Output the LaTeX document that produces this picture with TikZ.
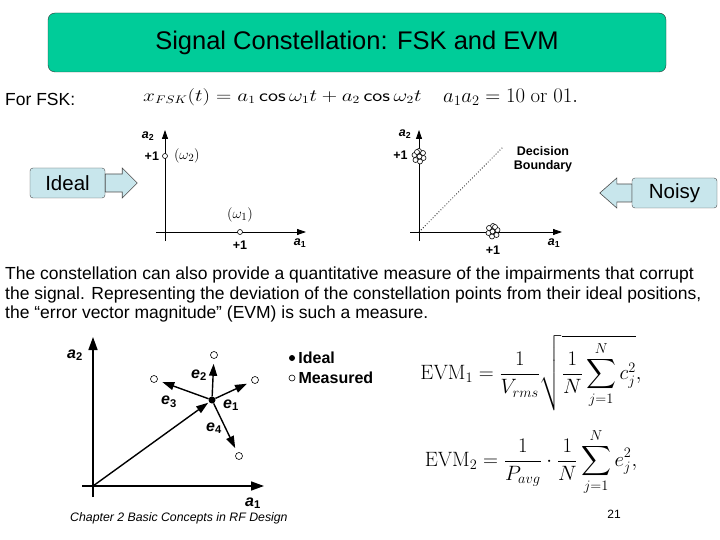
\documentclass[tikz,border=0pt]{standalone}
\usepackage[no-math]{fontspec}
\setmainfont{Liberation Sans}
\usepackage{amsmath}
\usepackage{xcolor}
\usepackage{tikz}
\usetikzlibrary{arrows.meta,positioning,calc}

\definecolor{titlegreen}{RGB}{0,204,153}
\definecolor{boxblue}{RGB}{200,230,236}
\newcommand{\axlab}[2]{\textbf{\textit{#1}\textsubscript{\upshape#2}}}

\begin{document}
\begin{tikzpicture}[x=1pt, y=-1pt,
  every node/.style={inner sep=0pt},
  banner/.style={draw=black!80, fill=titlegreen, rounded corners=7pt, minimum width=618pt, minimum height=59pt, font=\fontsize{25.5}{30}\selectfont},
  body/.style={font=\fontsize{17.5}{19.5}\selectfont, align=left},
  tag/.style={draw=black!70, fill=boxblue, rounded corners=3pt, minimum height=30pt, font=\fontsize{20.5}{24}\selectfont},
  blockarr/.style={draw=black!70, fill=boxblue, line width=0.6pt},
  axis/.style={-{Triangle[length=9pt,width=6pt]}, line width=0.8pt},
  bigaxis/.style={-{Triangle[length=13pt,width=9pt]}, line width=1.6pt},
  evec/.style={-{Triangle[length=12pt,width=8pt]}, line width=1.4pt},
  pt/.style={circle, draw, fill=white, line width=0.6pt, minimum size=5pt},
  ipt/.style={circle, fill=black, minimum size=7pt},
  lbl/.style={font=\fontsize{12.5}{14}\selectfont\bfseries},
  elbl/.style={font=\fontsize{16}{18}\selectfont\bfseries},
  eqn/.style={font=\fontsize{16}{19}\selectfont}
]
\useasboundingbox (0,0) rectangle (720,540);

% title
\node[banner] (title) at (357,42.5) {Signal Constellation: FSK and EVM};

% FSK line
\node[body, anchor=west] (forfsk) at (5,99) {For FSK:};
\begin{scope}[shift={(143,97)}, xscale=1.23]
  \node[eqn, anchor=west, transform shape] (fskeq) at (0,0) {$x_{FSK}(t) = a_1\,\mathsf{cos}\,\omega_1 t + a_2\,\mathsf{cos}\,\omega_2 t$};
\end{scope}
\node[eqn, anchor=west, font=\fontsize{20.5}{24}\selectfont] (bits) at (443,97) {$a_1a_2 = 10 \mathrm{\ or\ } 01.$};

% ideal / noisy tags
\node[tag, minimum width=75pt] (ideal) at (67.5,183) {Ideal};
\draw[blockarr, shift={(ideal.east)}] (0,-9) -- (17,-9) -- (17,-15) -- (32,0) -- (17,15) -- (17,9) -- (0,9) -- cycle;
\node[tag, minimum width=85pt] (noisy) at (674.5,193) {Noisy};
\draw[blockarr, shift={(noisy.west)}] (0,-9) -- (-15,-9) -- (-15,-15) -- (-32,0) -- (-15,15) -- (-15,9) -- (0,9) -- cycle;

% ideal constellation
\coordinate (la1s) at (156,232);
\coordinate (la1e) at (306,232);
\coordinate (la2s) at (165,241);
\coordinate (la2e) at (165,130);
\draw[axis] (la1s) -- (la1e);
\draw[axis] (la2s) -- (la2e);
\node[pt] (w2) at (165,156) {};
\node[pt] (w1) at (240,232) {};
\node[lbl, left=3pt of w2] (w2one) {+1};
\node[eqn, right=6pt of w2, font=\fontsize{15}{17}\selectfont] (w2lab) {$(\omega_2)$};
\node[above=7pt of w1, font=\fontsize{15}{17}\selectfont] (w1lab) {$(\omega_1)$};
\node[lbl, below=6pt of w1] (w1one) {+1};
\node[lbl] (la2lab) at (148,136) {\axlab{a}{2}};
\node[lbl] (la1lab) at (300,243) {\axlab{a}{1}};

% noisy constellation
\coordinate (ra1s) at (410,232);
\coordinate (ra1e) at (562,232);
\coordinate (ra2s) at (419,241);
\coordinate (ra2e) at (419,130);
\coordinate (ro) at (419,232);
\coordinate (db) at (503,147);
\draw[axis] (ra1s) -- (ra1e);
\draw[axis] (ra2s) -- (ra2e);
\draw[dotted, line width=0.8pt] (ro) -- (db);
\coordinate (c2) at (419,156);
\coordinate (c1) at (493,231);
\foreach \dx/\dy [count=\i] in {0/-5, 4/-3, 4.5/2, 1/5.5, -3.5/4, -4.5/-1, -2/-4, 0.5/0.5} {
  \node[pt, minimum size=5pt] (c2-\i) at ($(c2)+(\dx,\dy)$) {};
  \node[pt, minimum size=5pt] (c1-\i) at ($(c1)+(-\dx,\dy)$) {};
}
\node[lbl, left=4pt of c2-6] (c2one) {+1};
\node[lbl] (c1one) at (493,250) {+1};
\node[lbl] (ra2lab) at (405,134) {\axlab{a}{2}};
\node[lbl] (ra1lab) at (554,243) {\axlab{a}{1}};
\node[lbl, align=center] (dblab) at (543,159) {Decision\\Boundary};

% paragraph
\node[body, anchor=north west] (para) at (5,267) {The constellation can also provide a quantitative measure of the impairments that corrupt\\the signal. Representing the deviation of the constellation points from their ideal positions,\\the ``error vector magnitude'' (EVM) is such a measure.};

% EVM picture
\coordinate (o3) at (93,486);
\coordinate (b1s) at (82,486);
\coordinate (b1e) at (264,486);
\coordinate (b2s) at (93,497);
\coordinate (b2e) at (93,337);
\draw[bigaxis] (b1s) -- (b1e);
\draw[bigaxis] (b2s) -- (b2e);
\node[ipt] (ip) at (212,400) {};
\node[pt, minimum size=7pt] (m1) at (255,380) {};
\node[pt, minimum size=7pt] (m2) at (214,355) {};
\node[pt, minimum size=7pt] (m3) at (154,379) {};
\node[pt, minimum size=7pt] (m4) at (239,456) {};
\draw[evec, shorten >=1pt] (o3) -- (ip);
\draw[evec, shorten >=5pt] (ip) -- (m1);
\draw[evec, shorten >=5pt] (ip) -- (m2);
\draw[evec, shorten >=5pt] (ip) -- (m3);
\draw[evec, shorten >=5pt] (ip) -- (m4);
\node[elbl] (e1lab) at (231,405) {\axlab{e}{1}};
\node[elbl] (e2lab) at (199,375) {\axlab{e}{2}};
\node[elbl] (e3lab) at (169,402) {\axlab{e}{3}};
\node[elbl] (e4lab) at (214,428) {\axlab{e}{4}};
\node[elbl] (b2lab) at (75,355) {\axlab{a}{2}};
\node[elbl] (b1lab) at (253,503) {\axlab{a}{1}};

% legend
\node[ipt, minimum size=6pt] (legi) at (292,358) {};
\node[elbl, right=3pt of legi] (legitxt) {Ideal};
\node[pt, minimum size=6pt] (legm) at (292,378) {};
\node[elbl, right=3pt of legm] (legmtxt) {Measured};

% formulas
\node[font=\fontsize{20.5}{24}\selectfont] (evm1) at (531,373) {$\displaystyle \mathrm{EVM}_1 = \frac{1}{V_{rms}}\sqrt{\frac{1}{N}\sum_{j=1}^{N} c_j^2},$};
\node[font=\fontsize{20.5}{24}\selectfont] (evm2) at (531,462) {$\displaystyle \mathrm{EVM}_2 = \frac{1}{P_{avg}}\cdot\frac{1}{N}\sum_{j=1}^{N} e_j^2,$};

% footer
\node[anchor=west, font=\fontsize{12.3}{14}\selectfont\itshape] (cap) at (70,518) {Chapter 2 Basic Concepts in RF Design};
\node[font=\fontsize{12}{14}\selectfont] (pg) at (614,514) {21};
\end{tikzpicture}
\end{document}
